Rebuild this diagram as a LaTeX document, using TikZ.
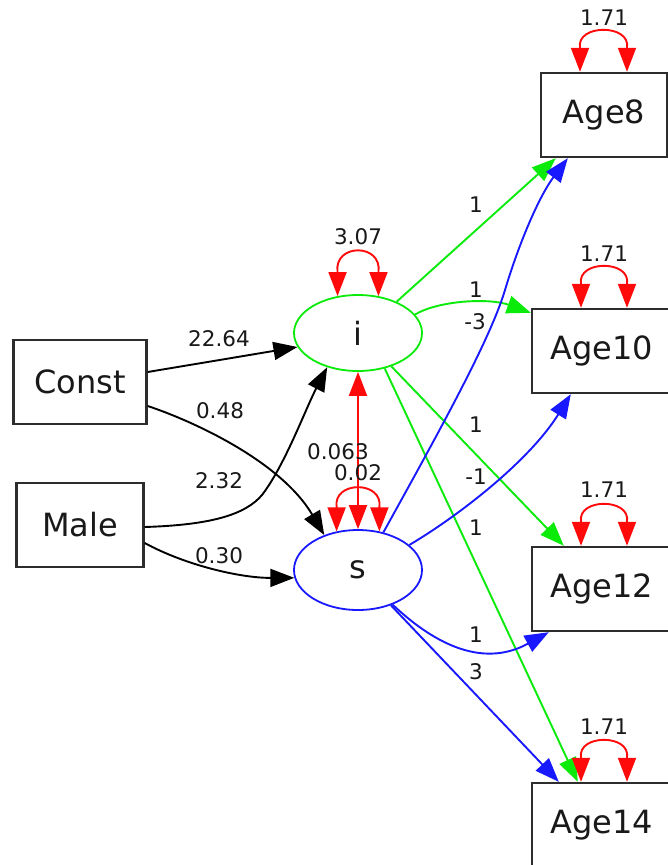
\documentclass[tikz,border=0pt]{standalone}
\usepackage{fontspec}
\setmainfont{DejaVu Sans}
\usetikzlibrary{arrows.meta,shapes.geometric}

\definecolor{boxgray}{RGB}{45,45,45}
\definecolor{txtgray}{RGB}{25,25,25}
\definecolor{pathgreen}{RGB}{10,235,10}
\definecolor{pathblue}{RGB}{25,25,255}
\definecolor{varred}{RGB}{255,10,10}

\newcommand{\nodefont}{\fontsize{32}{32}\selectfont}
\newcommand{\coeffont}{\fontsize{21.5}{21.5}\selectfont}

\tikzset{
  tip/.tip={Triangle[length=24pt,width=18pt]},
  obsbox/.style={draw=boxgray, line width=2.4pt, rectangle, minimum height=84pt,
    inner sep=0pt, text=txtgray, font=\nodefont},
  latent/.style={ellipse, line width=1.8pt, minimum width=128pt, inner sep=0pt,
    text=txtgray, font=\nodefont},
  coef/.style={text=txtgray, font=\coeffont, inner sep=0pt},
  conn/.style={line width=1.9pt, -tip},
  blackpath/.style={conn, black},
  greenpath/.style={conn, pathgreen},
  bluepath/.style={conn, pathblue},
  varloop/.style={line width=1.9pt, varred, tip-tip},
}

\begin{document}
\begin{tikzpicture}[x=1pt,y=-1pt]
\clip (0,0) rectangle (668,865);
\fill[white] (0,0) rectangle (668,865);

% observed covariates
\node[obsbox, minimum width=133pt] (const) at (80,382) {Const};
\node[obsbox, minimum width=127pt] (male) at (80,525) {Male};

% growth factors
\node[latent, draw=pathgreen, minimum height=76pt] (i) at (358,333) {i};
\node[latent, draw=pathblue, minimum height=80pt] (s) at (358,570) {s};

% repeated measures
\node[obsbox, minimum width=126pt] (age8) at (604,115) {Age8};
\node[obsbox, minimum width=140pt] (age10) at (602,351) {Age10};
\node[obsbox, minimum width=140pt] (age12) at (602,589) {Age12};
\node[obsbox, minimum width=140pt] (age14) at (602,825) {Age14};

% regressions of the growth factors on the covariates
\draw[blackpath] ([yshift=10pt]const.east) -- (i.193);
\draw[blackpath] ([yshift=-24pt]const.east) .. controls (190,420) and (280,460) .. (s.134);
\draw[blackpath] ([yshift=-2pt]male.east) .. controls (210,525) and (245,515) .. (262,495)
  .. controls (285,465) and (305,410) .. (i.228);
\draw[blackpath] ([yshift=-18pt]male.east) .. controls (185,565) and (240,578) .. (s.187);

% intercept loadings
\draw[greenpath] (i.39) -- ([xshift=16pt]age8.south west);
\draw[greenpath] (i.18) .. controls (440,300) and (490,298) .. ([yshift=-5pt]age10.north west);
\draw[greenpath] (i.315) -- ([xshift=33pt]age12.north west);
\draw[greenpath] (i.307) -- ([xshift=47pt]age14.north west);

% slope loadings
\draw[bluepath] (s.56) .. controls (440,430) and (490,340) .. (505,290)
  .. controls (520,240) and (540,195) .. ([xshift=28pt]age8.south west);
\draw[bluepath] (s.26) .. controls (460,515) and (530,460) .. ([xshift=40pt]age10.south west);
\draw[bluepath] (s.315) .. controls (430,640) and (480,670) .. ([xshift=18pt]age12.south west);
\draw[bluepath] (s.313) -- ([xshift=28pt]age14.north west);

% factor covariance and variances
\draw[varloop] (i.south) -- (s.north);
\draw[varloop] (i.119) -- ++(0,-24) .. controls +(-4,-29) and +(4,-29) .. ([yshift=24pt]i.61) -- (i.61);
\draw[varloop] (s.119) -- ++(0,-24) .. controls +(-4,-27) and +(4,-27) .. ([yshift=24pt]s.61) -- (s.61);

% residual variances
\draw[varloop] ([xshift=-24pt]age8.north) -- ++(0,-24) .. controls +(-4,-24) and +(4,-24) .. ([xshift=23pt,yshift=24pt]age8.north) -- ([xshift=23pt]age8.north);
\draw[varloop] ([xshift=-21pt]age10.north) -- ++(0,-24) .. controls +(-4,-24) and +(4,-24) .. ([xshift=25pt,yshift=24pt]age10.north) -- ([xshift=25pt]age10.north);
\draw[varloop] ([xshift=-21pt]age12.north) -- ++(0,-24) .. controls +(-4,-24) and +(4,-24) .. ([xshift=25pt,yshift=24pt]age12.north) -- ([xshift=25pt]age12.north);
\draw[varloop] ([xshift=-21pt]age14.north) -- ++(0,-24) .. controls +(-4,-24) and +(4,-24) .. ([xshift=25pt,yshift=24pt]age14.north) -- ([xshift=25pt]age14.north);

% coefficients
\node[coef] (c1) at (219,339) {22.64};
\node[coef] (c2) at (220,411) {0.48};
\node[coef] (c3) at (219,481) {2.32};
\node[coef] (c4) at (219,556) {0.30};
\node[coef] (vi) at (358,237) {3.07};
\node[coef] (cis) at (338,452) {0.063};
\node[coef] (vs) at (358,473) {0.02};
\node[coef] (v8) at (604,18) {1.71};
\node[coef] (v10) at (604,254) {1.71};
\node[coef] (v12) at (604,490) {1.71};
\node[coef] (v14) at (604,727) {1.71};
\node[coef] (l1) at (476,205) {1};
\node[coef] (l2) at (476,290) {1};
\node[coef] (l3) at (475,322) {-3};
\node[coef] (l4) at (476,425) {1};
\node[coef] (l5) at (476,477) {-1};
\node[coef] (l6) at (476,528) {1};
\node[coef] (l7) at (476,635) {1};
\node[coef] (l8) at (476,672) {3};
\end{tikzpicture}
\end{document}
